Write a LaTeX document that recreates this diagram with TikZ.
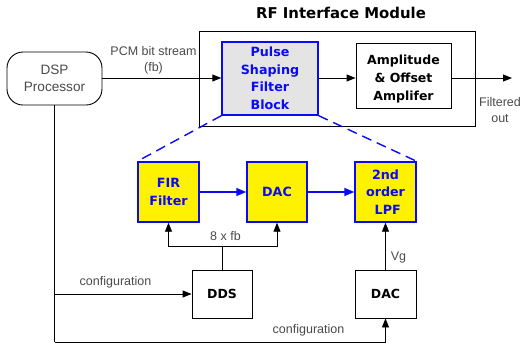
\documentclass[tikz,border=0pt]{standalone}
\usepackage{fontspec}
\setmainfont{Liberation Sans}
\newfontfamily\boldfam{DejaVu Sans}
\usetikzlibrary{arrows.meta}
\definecolor{lbl}{HTML}{4A4A4A}
\definecolor{bblue}{HTML}{0A0AF5}
\definecolor{pgray}{HTML}{E4E4E4}
\tikzset{
  base/.style={draw=black, line width=0.9pt, inner sep=0pt, align=center},
  plainbox/.style={base, fill=white, font=\boldfam\bfseries\fontsize{12.5}{18}\selectfont},
  bluebox/.style={draw=bblue, line width=1.4pt, inner sep=0pt, align=center, fill=yellow, text=bblue, font=\boldfam\bfseries\fontsize{12.7}{17.5}\selectfont},
  lab/.style={text=lbl, font=\fontsize{12.5}{15.5}\selectfont, inner sep=0pt, align=center},
  arr/.style={line width=0.9pt, -{Triangle[length=9pt,width=7pt]}},
  conn/.style={line width=0.9pt},
  barr/.style={draw=bblue, line width=1.4pt, -{Triangle[length=10pt,width=8pt]}},
  dashline/.style={draw=bblue, line width=1.4pt, dash pattern=on 10pt off 6pt},
}
\begin{document}
\begin{tikzpicture}[x=1pt,y=-1pt]
\useasboundingbox (0,0) rectangle (521,346);
% title
\node[font=\boldfam\bfseries\fontsize{14.9}{16}\selectfont, inner sep=0pt] (title) at (341,13) {RF Interface Module};
% RF box
\node[base, minimum width=276pt, minimum height=95pt] (rf) at (337,78.5) {};
% DSP
\node[base, rounded corners=16pt, minimum width=95pt, minimum height=53pt, text=lbl, font=\fontsize{13.6}{17}\selectfont] (dsp) at (54.5,78.5) {DSP\\Processor};
% Pulse shaping
\node[bluebox, fill=pgray, minimum width=96pt, minimum height=73pt] (pulse) at (270,78.5) {Pulse\\Shaping\\Filter\\Block};
% Amplitude box
\node[plainbox, minimum width=95pt, minimum height=65pt] (amp) at (403.5,75.5) {};
\node[font=\boldfam\bfseries\fontsize{12.5}{18}\selectfont, align=center, inner sep=0pt] (amptext) at (403.5,79) {Amplitude\\\& Offset\\Amplifer};
% lower blocks
\node[bluebox, minimum width=61pt, minimum height=60pt] (fir) at (168.5,192) {FIR\\Filter};
\node[bluebox, minimum width=60pt, minimum height=60pt] (dac1) at (277,192) {DAC};
\node[bluebox, minimum width=61pt, minimum height=60pt] (lpf) at (385.5,192) {2nd\\order\\\ LPF};
\node[plainbox, minimum width=60pt, minimum height=48pt] (dds) at (222,294) {DDS};
\node[plainbox, minimum width=61pt, minimum height=48pt] (dac2) at (385.5,294) {DAC};
% coordinates
\coordinate (outend) at (512,78);
\coordinate (split) at (222,246);
\coordinate (dspdown) at (54.5,342);
% top connections
\draw[arr] (dsp.east |- 0,78) -- (pulse.west |- 0,78);
\draw[arr] (pulse.east |- 0,78) -- (amp.west |- 0,78);
\draw[arr] (amp.east |- 0,78) -- (outend);
\node[lab] (pcm) at (153.5,60.5) {PCM bit stream\\(fb)};
\node[lab] (filt) at (500,110) {Filtered\\out};
% dashed zoom lines
\draw[dashline] (pulse.south west) -- (fir.north west);
\draw[dashline] (pulse.south east) -- (lpf.north east);
% blue arrows
\draw[barr] (fir) -- (dac1);
\draw[barr] (dac1) -- (lpf);
% 8 x fb
\draw[conn] (dds.north) -- (split);
\draw[arr] (split) -| (fir.south);
\draw[arr] (split) -| (dac1.south);
\node[lab] (fb8) at (225.5,236) {8 x fb};
% Vg
\draw[arr] (dac2.north) -- (lpf.south);
\node[lab] (vg) at (398.5,257.5) {Vg};
% configuration
\draw[conn] (dsp.south) -- (dspdown);
\draw[arr] (dsp.south |- dds.west) -- (dds.west);
\draw[arr] (dspdown) -| (dac2.south);
\node[lab] (cfg1) at (115.5,282) {configuration};
\node[lab] (cfg2) at (308.5,330) {configuration};
\end{tikzpicture}
\end{document}
